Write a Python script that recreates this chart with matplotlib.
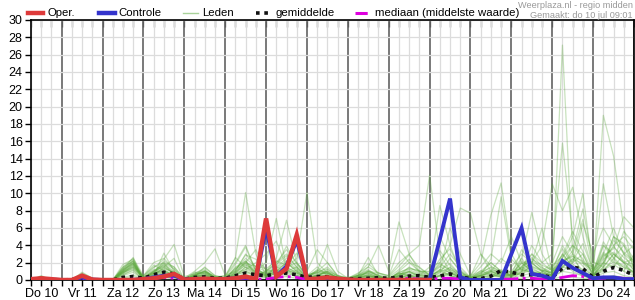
import matplotlib
matplotlib.use("Agg")
import matplotlib.pyplot as plt
from matplotlib.lines import Line2D
import numpy as np

plt.rcParams['font.family'] = ['Liberation Sans', 'DejaVu Sans']

# ---------------- data ----------------
# time axis: hours since Do 10 00:00, 6-hourly from Do 10 06:00 to Vr 25 00:00
hours = list(range(6, 361, 6))
day_labels = ["Do 10", "Vr 11", "Za 12", "Zo 13", "Ma 14", "Di 15", "Wo 16", "Do 17",
              "Vr 18", "Za 19", "Zo 20", "Ma 21", "Di 22", "Wo 23", "Do 24"]
y_ticks = list(range(0, 31, 2))

oper = [0.1, 0.2, 0.1,
        0, 0, 0.5, 0.05,
        0, 0, 0, 0,
        0.1, 0.2, 0.4, 0.7,
        0.05, 0.1, 0.15, 0.1,
        0.1, 0.2, 0.4, 0.1,
        7.1, 0.4, 1.3, 5.2,
        0.1, 0.15, 0.3, 0.15,
        0.05, 0, 0, 0,
        0, 0, 0, 0,
        0]

controle = [0.1, 0.1, 0.05,
            0, 0, 0.3, 0.05,
            0, 0, 0, 0,
            0.1, 0.3, 0.5, 0.5,
            0.05, 0.1, 0.1, 0,
            0.1, 0.2, 0.3, 0.1,
            6.0, 0.4, 1.6, 4.6,
            0.1, 0.1, 0.2, 0.1,
            0, 0, 0, 0,
            0, 0, 0, 0,
            0.05, 4.7, 9.4, 0.3,
            0, 0, 0, 0,
            3.0, 6.0, 0.7, 0.5,
            0.1, 2.2, 1.4, 0.8,
            0.2, 0.3, 0.3, 0.1,
            0.1]

gemiddelde = [0.1, 0.15, 0.05,
              0, 0.05, 0.3, 0.05,
              0, 0, 0.3, 0.4,
              0.2, 0.6, 0.9, 0.7,
              0.1, 0.3, 0.35, 0.2,
              0.2, 0.5, 0.8, 0.6,
              0.5, 0.7, 0.8, 0.6,
              0.3, 0.4, 0.35, 0.15,
              0.1, 0.15, 0.2, 0.25,
              0.2, 0.3, 0.45, 0.5,
              0.3, 0.45, 0.7, 0.35,
              0.15, 0.15, 0.45, 1.1,
              0.9, 0.6, 0.6, 0.55,
              0.3, 1.35, 1.45, 1.3,
              0.3, 1.0, 1.45, 1.1,
              0.55]

mediaan = [0, 0.05, 0,
           0, 0, 0.1, 0,
           0, 0, 0, 0.1,
           0, 0.2, 0.3, 0.2,
           0, 0.05, 0.1, 0,
           0, 0.1, 0.2, 0.1,
           0.1, 0.3, 0.4, 0.3,
           0.05, 0.1, 0.1, 0,
           0, 0, 0, 0.05,
           0, 0.1, 0.2, 0.1,
           0.05, 0.2, 0.2, 0.1,
           0, 0, 0.05, 0.1,
           0.1, 0.2, 0.2, 0.1,
           0.1, 0.3, 0.5, 0.4,
           0.1, 0.2, 0.3, 0.2,
           0.1]

lid01 = [0, 0.4, 0, 0, 0, 0.6, 0, 0, 0, 1.2, 2.6, 0, 1.0, 1.5, 0.8, 0, 0.3, 0.5, 0.2, 0, 1.5, 2.2, 0.5,
         0.3, 0.8, 1.2, 0.4, 0, 0.2, 0.6, 0, 0, 0, 0.3, 0.5, 0, 0.4, 1.0, 0.3, 0, 0.5, 1.5, 0.3,
         0, 0, 0.4, 1.2, 0.5, 2.0, 1.0, 0.3, 0.5, 27.1, 3.0, 0.5, 0, 1.5, 3.0, 2.0, 0.8]
lid02 = [0, 0.3, 0, 0, 0, 0.4, 0, 0, 0, 0.8, 1.8, 0.2, 0.8, 1.2, 0.5, 0, 0.5, 1.0, 0.3, 0.5, 2.5, 10.1, 3.0,
         0.5, 1.0, 2.0, 1.0, 0.3, 0.5, 1.0, 0.2, 0, 0.2, 0.5, 0.2, 0, 0.8, 0.5, 0, 0.5, 2.0, 1.0, 0.5,
         0, 0.5, 1.0, 0.5, 0, 1.0, 4.0, 2.0, 1.0, 3.0, 1.5, 0.5, 0.3, 4.0, 2.5, 1.0, 3.0]
lid03 = [0, 0.2, 0, 0, 0, 0.5, 0, 0, 0, 1.5, 2.2, 0, 0.5, 3.1, 1.0, 0, 0.2, 0.4, 0, 0, 0.8, 1.2, 2.0,
         3.0, 4.5, 1.5, 2.5, 10.1, 2.0, 0.8, 0.3, 0, 0.3, 1.0, 0.4, 0, 0.5, 0.3, 0, 0.3, 1.2, 0.5, 0.2,
         0, 0, 0.3, 0.8, 1.0, 0.5, 2.0, 6.0, 1.0, 4.0, 2.0, 3.0, 0.5, 2.0, 5.0, 4.0, 1.5]
lid04 = [0, 0.5, 0, 0, 0, 0.8, 0.2, 0, 0, 1.0, 1.5, 0.5, 1.5, 2.0, 0.5, 0, 0.8, 1.2, 0.2, 0.2, 0.5, 1.0, 0.5,
         1.0, 2.0, 3.0, 1.5, 0.5, 1.0, 2.0, 0.5, 0.2, 0.5, 1.5, 0.8, 0.5, 2.0, 3.0, 4.0, 12.1, 3.0, 1.0, 0.5,
         0.3, 0.8, 2.0, 1.0, 0.5, 1.0, 3.0, 1.5, 0.5, 2.0, 1.0, 0.5, 0.2, 3.0, 6.0, 3.0, 2.0]
lid05 = [0, 0.2, 0, 0, 0, 0.3, 0, 0, 0, 0.5, 0.9, 0, 0.3, 0.8, 0.4, 0, 0.2, 0.3, 0, 0, 0.5, 1.5, 1.0,
         2.0, 7.1, 1.5, 0.8, 0.3, 0.5, 0.4, 0, 0, 0.1, 0.3, 0.1, 0, 0.2, 0.5, 0.3, 0, 0.5, 0.8, 0.3,
         0, 0.3, 0.5, 0.4, 0.5, 0.8, 1.5, 1.0, 0.5, 2.0, 4.0, 3.0, 0.5, 19.0, 14.3, 6.0, 1.0]
lid06 = [0, 0.3, 0, 0, 0, 0.5, 0, 0, 0, 1.0, 2.0, 0.2, 1.0, 2.0, 1.5, 0.2, 0.5, 0.8, 0.3, 0, 0.3, 0.8, 0.6,
         1.0, 2.5, 6.9, 2.0, 0.5, 1.5, 0.5, 0, 0, 0.3, 0.6, 0.2, 0, 1.0, 2.0, 1.0, 1.0, 8.6, 4.0, 1.0,
         0, 0.5, 0.8, 0.3, 0.2, 1.5, 0.8, 0.5, 1.0, 1.5, 2.5, 1.0, 0.5, 1.5, 3.0, 2.0, 0.5]
lid07 = [0, 0.4, 0, 0, 0, 0.6, 0.1, 0, 0, 1.8, 2.4, 0, 0.8, 1.0, 0.6, 0.2, 1.0, 2.0, 3.6, 0.5, 1.0, 2.0, 0.8,
         0.5, 1.0, 1.5, 2.0, 0.5, 0.8, 1.5, 0.5, 0, 0.5, 0.8, 0.3, 0.2, 0.6, 1.0, 0.5, 1.5, 2.0, 4.0, 8.3,
         7.7, 3.0, 1.0, 0.5, 0.3, 2.5, 1.0, 0.5, 0.5, 3.0, 1.5, 1.0, 0.3, 2.0, 4.0, 5.0, 3.5]
lid08 = [0, 0.2, 0, 0, 0, 0.4, 0, 0, 0, 0.6, 1.2, 0, 0.5, 1.5, 2.5, 0, 0.3, 0.6, 0.2, 0, 1.0, 3.0, 1.5,
         0.5, 1.5, 1.0, 0.5, 0.3, 0.5, 1.0, 0.2, 0, 0.5, 2.6, 0.5, 0, 0.3, 0.5, 0.2, 0.5, 1.0, 0.5, 0.2,
         0.5, 2.0, 7.5, 11.2, 3.0, 1.0, 2.0, 1.0, 0.5, 2.5, 5.0, 2.0, 0.5, 1.0, 2.5, 4.0, 2.0]
lid09 = [0, 0.3, 0, 0, 0, 0.3, 0, 0, 0, 0.8, 1.6, 0.3, 1.2, 0.8, 0.3, 0, 0.5, 0.5, 0, 0, 0.8, 2.0, 3.5,
         1.0, 0.5, 1.0, 1.5, 0.2, 0.5, 0.8, 0.3, 0, 0.2, 0.4, 0.2, 0, 0.5, 1.5, 0.8, 0.3, 0.8, 2.5, 1.0,
         0.2, 0.5, 1.0, 2.5, 1.5, 3.0, 2.0, 4.0, 11.1, 8.0, 10.7, 5.0, 1.0, 2.0, 1.5, 3.0, 1.0]
lid10 = [0, 0.2, 0, 0, 0, 0.5, 0, 0, 0, 1.2, 2.0, 0, 0.7, 1.8, 1.0, 0, 0.4, 1.5, 0.5, 0.3, 1.8, 3.8, 1.0,
         0.5, 1.0, 2.0, 1.0, 0.2, 0.5, 0.5, 0, 0, 0.3, 1.0, 0.5, 0, 0.5, 0.8, 0.5, 0.5, 1.5, 3.0, 1.5,
         0.3, 0.5, 1.0, 0.8, 0.5, 1.5, 3.0, 2.0, 3.0, 15.8, 5.0, 10.0, 1.0, 4.0, 3.0, 2.0, 2.5]
lid11 = [0, 0.4, 0, 0, 0, 0.7, 0, 0, 0, 1.5, 2.5, 0.5, 2.0, 2.5, 1.2, 0, 0.6, 1.0, 0.3, 0.2, 1.2, 2.5, 1.5,
         1.0, 2.0, 3.5, 2.0, 0.5, 0.8, 1.0, 0.5, 0.2, 0.5, 0.8, 0.3, 0, 0.3, 0.6, 0.3, 0.2, 0.5, 1.2, 0.6,
         0.2, 0.8, 1.5, 1.0, 1.0, 2.5, 7.8, 3.0, 1.0, 2.0, 3.0, 2.0, 1.5, 11.1, 5.0, 3.0, 4.0]
lid12 = [0, 0.3, 0, 0, 0, 0.5, 0, 0, 0, 1.0, 1.8, 0, 0.6, 1.0, 0.5, 0, 0.3, 0.6, 0.2, 0, 0.5, 1.5, 0.8,
         0.5, 1.0, 1.2, 0.8, 0.3, 1.0, 4.1, 1.0, 0.2, 0.8, 1.5, 4.0, 1.0, 6.7, 3.0, 1.0, 0.5, 1.0, 6.0, 3.0,
         0.5, 1.0, 2.0, 1.0, 0.5, 3.5, 2.0, 1.0, 2.0, 5.0, 3.0, 7.0, 1.0, 3.0, 2.0, 1.5, 1.0]
lid13 = [0, 0.2, 0, 0, 0, 0.4, 0, 0, 0, 0.7, 1.4, 0.2, 0.8, 2.2, 1.5, 0, 0.5, 1.0, 0.3, 0.5, 2.0, 4.0, 1.0,
         0.5, 1.5, 2.5, 4.8, 1.0, 3.5, 2.0, 0.5, 0.3, 0.5, 1.0, 0.8, 0.5, 3.5, 2.0, 1.5, 0.5, 5.0, 2.5, 1.0,
         0.3, 1.5, 3.0, 2.0, 5.0, 2.0, 1.0, 0.8, 0.5, 1.0, 2.0, 6.5, 3.0, 6.0, 4.0, 2.0, 1.5]
lid14 = [0, 0.1, 0, 0, 0, 0.2, 0, 0, 0, 0.3, 0.6, 0, 0.3, 0.5, 0.3, 0, 0.2, 0.3, 0, 0, 0.3, 0.6, 0.4,
         0.3, 0.5, 0.8, 0.5, 0.2, 0.3, 0.3, 0, 0, 0.1, 0.2, 0.1, 0, 0.2, 0.3, 0.2, 0.2, 0.5, 0.5, 0.2,
         0, 0.2, 0.5, 0.3, 0.3, 0.5, 0.8, 0.5, 0.3, 1.0, 0.8, 0.5, 0.2, 0.8, 1.0, 0.5, 0.3]
lid15 = [0, 0.3, 0, 0, 0, 0.5, 0.1, 0, 0, 0.9, 1.3, 0.3, 0.9, 0.7, 0.4, 0, 0.4, 0.5, 0.1, 0.1, 0.6, 1.0, 0.6,
         0.4, 0.8, 1.2, 0.6, 0.1, 0.4, 0.5, 0.1, 0, 0.2, 0.4, 0.2, 0.1, 0.4, 0.6, 0.4, 0.3, 0.6, 0.8, 0.4,
         0.1, 0.3, 0.6, 0.5, 0.5, 0.7, 1.2, 0.8, 0.6, 1.5, 1.2, 0.8, 0.3, 1.2, 1.8, 1.0, 0.5]
lid16 = [0, 0.2, 0, 0, 0, 0.4, 0, 0, 0, 1.1, 1.9, 0.1, 0.6, 1.3, 0.9, 0, 0.3, 0.8, 0.2, 0, 0.7, 1.8, 0.9,
         0.6, 1.2, 0.9, 1.1, 0.2, 0.6, 0.9, 0.2, 0, 0.3, 0.7, 0.3, 0, 0.6, 1.2, 0.7, 0.4, 1.1, 1.9, 0.6,
         0.1, 0.4, 0.9, 0.7, 0.6, 1.6, 2.2, 1.4, 0.8, 2.2, 2.8, 1.6, 0.4, 2.4, 3.2, 2.2, 1.2]
lid17 = [0, 0.4, 0, 0, 0, 0.9, 0.2, 0, 0, 1.4, 2.2, 0.4, 1.7, 1.1, 0.6, 0, 0.9, 0.7, 0.1, 0.2, 1.1, 2.9, 2.4,
         1.2, 0.9, 0.5, 0.8, 0.1, 0.4, 1.2, 0.4, 0.1, 0.6, 1.2, 0.4, 0.2, 0.8, 0.5, 0.2, 0.1, 0.4, 0.7, 0.3,
         0.2, 0.6, 1.2, 0.9, 0.4, 1.2, 0.9, 0.6, 1.4, 3.6, 1.8, 1.2, 0.6, 1.8, 4.6, 3.2, 2.2]
lid18 = [0, 0, 0, 0, 0, 0.1, 0, 0, 0, 0.2, 0.4, 0, 0.2, 0.3, 0.1, 0, 0.1, 0.1, 0, 0, 0.2, 0.4, 0.2,
         0.1, 0.3, 0.4, 0.2, 0, 0.1, 0.1, 0, 0, 0, 0.1, 0, 0, 0.1, 0.2, 0.1, 0, 0.1, 0.3, 0.1,
         0, 0.1, 0.2, 0.1, 0.1, 0.2, 0.4, 0.2, 0.1, 0.4, 0.3, 0.2, 0.1, 0.3, 0.5, 0.3, 0.2]
lid19 = [0, 0.3, 0, 0, 0, 0.5, 0, 0, 0, 0.9, 1.7, 0.2, 1.0, 1.6, 0.7, 0, 0.6, 1.1, 0.4, 0.3, 2.6, 1.4, 0.7,
         0.8, 1.4, 2.2, 1.3, 0.4, 0.9, 0.6, 0.1, 0, 0.4, 0.9, 0.6, 0.3, 1.2, 2.4, 0.9, 0.6, 1.8, 1.2, 0.7,
         0.4, 3.0, 1.6, 0.9, 0.8, 1.4, 2.6, 1.2, 0.7, 1.6, 2.2, 4.2, 1.1, 2.8, 3.6, 7.3, 6.0]
lid20 = [0, 0.2, 0, 0, 0, 0.6, 0, 0, 0, 1.3, 2.1, 0.3, 1.4, 2.4, 4.1, 0.4, 0.7, 0.9, 0.3, 0.1, 0.9, 1.7, 1.2,
         0.7, 1.6, 3.9, 1.8, 0.4, 1.1, 0.7, 0.3, 0.2, 0.4, 0.5, 0.2, 0.1, 0.5, 1.0, 0.6, 0.2, 0.9, 1.4, 0.8,
         0.3, 0.5, 0.7, 0.6, 0.4, 0.9, 1.6, 1.1, 0.9, 2.6, 4.0, 2.4, 0.7, 1.3, 2.1, 1.7, 0.8]
lid21 = [0, 0.1, 0, 0, 0, 0.3, 0, 0, 0, 0.6, 1.1, 0, 0.4, 0.9, 0.6, 0, 0.4, 0.7, 0.2, 0.1, 0.6, 1.2, 0.7,
         0.4, 0.8, 1.4, 0.9, 0.2, 0.5, 0.4, 0.1, 0, 0.2, 0.6, 0.3, 0.2, 0.7, 0.9, 0.5, 0.4, 1.2, 0.9, 0.3,
         0.1, 0.6, 2.4, 9.6, 2.4, 1.2, 0.8, 0.9, 1.6, 2.8, 5.6, 3.3, 0.9, 4.4, 2.6, 1.4, 0.9]
lid22 = [0, 0.3, 0, 0, 0, 0.4, 0, 0, 0, 1.0, 2.3, 0.1, 0.7, 1.4, 0.8, 0, 0.5, 0.9, 0.2, 0.2, 1.4, 2.1, 1.3,
         0.6, 1.3, 1.9, 1.2, 0.3, 0.7, 0.8, 0.2, 0.1, 0.3, 0.5, 0.2, 0.1, 0.9, 1.3, 1.1, 0.7, 1.6, 0.8, 0.4,
         0.2, 1.1, 0.6, 0.4, 0.6, 2.2, 1.4, 0.7, 0.6, 1.8, 3.4, 8.2, 2.1, 1.5, 5.0, 4.2, 2.4]
lid23 = [0, 0.2, 0, 0, 0, 0.6, 0, 0, 0, 1.2, 1.9, 0.2, 1.1, 1.7, 0.9, 0.1, 0.7, 1.4, 0.5, 0.2, 1.3, 1.9, 1.6,
         1.3, 2.2, 1.7, 3.1, 0.6, 0.9, 1.3, 0.4, 0.2, 0.7, 1.9, 0.8, 0.4, 1.6, 2.9, 1.4, 0.6, 2.4, 3.6, 1.2,
         0.3, 0.9, 1.4, 0.7, 0.7, 1.9, 2.4, 1.7, 1.2, 2.1, 2.7, 2.2, 0.8, 2.6, 3.8, 2.6, 1.6]
lid24 = [0, 0.3, 0, 0, 0, 0.4, 0, 0, 0, 0.8, 1.5, 0.1, 0.9, 1.9, 1.3, 0, 0.6, 1.0, 0.4, 0.1, 0.9, 2.2, 0.9,
         0.9, 1.8, 2.8, 1.5, 0.3, 1.2, 0.8, 0.3, 0.1, 0.5, 1.1, 0.5, 0.2, 0.8, 1.4, 1.0, 0.9, 3.4, 1.7, 0.6,
         0.2, 0.7, 1.1, 0.9, 0.9, 1.3, 1.9, 1.1, 0.8, 1.4, 2.4, 1.9, 1.2, 3.2, 2.2, 5.6, 4.2]

leden = [lid01, lid02, lid03, lid04, lid05, lid06, lid07, lid08, lid09, lid10, lid11, lid12,
         lid13, lid14, lid15, lid16, lid17, lid18, lid19, lid20, lid21, lid22, lid23, lid24]

# ---------------- styles ----------------
RED = '#dd3a3a'
BLUE = '#3434cc'
GREEN = '#5aa83a'
MAGENTA = '#dd00dd'

W, H = 635, 300
fig = plt.figure(figsize=(W / 100, H / 100), dpi=100)
ax = fig.add_axes([31 / W, 20 / H, 603 / W, 260 / H])

# grid
ax.set_xlim(6, 360)
ax.set_ylim(0, 30)
ax.set_xticks(range(6, 361, 6), minor=True)
ax.set_xticks(range(24, 361, 24))
ax.set_yticks(y_ticks)
ax.grid(which='minor', axis='x', color='#dcdcdc', lw=0.9, zorder=0)
ax.grid(which='major', axis='x', color='#555555', lw=1.1, zorder=0.5)
ax.grid(which='major', axis='y', color='#dcdcdc', lw=0.9, zorder=0)
ax.set_axisbelow(True)

# label positions at day centres
ax.set_xticklabels([])
for i, lab in enumerate(day_labels):
    ax.text(24 * i + 12, -0.9, lab, ha='center', va='top', fontsize=9,
            transform=ax.transData)

ax.tick_params(axis='x', which='both', direction='out', length=4, width=1,
               color='black', labelbottom=False)
ax.tick_params(axis='y', which='major', direction='out', length=4, width=1,
               labelsize=9, pad=2)
for sp in ax.spines.values():
    sp.set_color('black')
    sp.set_linewidth(1.2)

# inward ticks along the top edge
top = ax.secondary_xaxis('top')
top.set_xticks(range(6, 361, 6))
top.set_xticklabels([])
top.tick_params(axis='x', direction='in', length=5, width=1, color='#777777')
top.spines['top'].set_visible(False)

# members
for m in leden:
    ax.plot(hours, m, color=GREEN, alpha=0.33, lw=0.9, zorder=2)

ax.plot(hours, gemiddelde, color='#111111', lw=2.6, linestyle=(0, (1, 1.3)), zorder=3)
ax.plot(hours, mediaan, color=MAGENTA, lw=2.0, linestyle='-.', zorder=3.2)
ax.plot(hours, controle, color=BLUE, lw=2.8, zorder=4, solid_joinstyle='miter')
ax.plot(hours[:len(oper)], oper, color=RED, lw=3.2, zorder=5, solid_joinstyle='miter')

# legend (manual, figure pixel coords)
def fx(px):
    return px / W

def fy(py):
    return 1 - py / H

ly = 13
items = [
    (28, 43, 47, "Oper.", dict(color=RED, lw=3.2)),
    (99, 115, 118, "Controle", dict(color=BLUE, lw=3.2)),
    (183, 198, 202, "Leden", dict(color='#a9d39a', lw=1.0)),
    (256, 268, 276, "gemiddelde", dict(color='#111111', lw=2.6, linestyle=(0, (1, 1.3)))),
    (355, 370, 375, "mediaan (middelste waarde)", dict(color=MAGENTA, lw=2.2, linestyle=(0, (4, 1.5, 0.7, 1.5)))),
]
for x0, x1, tx, label, st in items:
    fig.add_artist(Line2D([fx(x0), fx(x1)], [fy(ly), fy(ly)], transform=fig.transFigure, **st))
    fig.text(fx(tx), fy(ly + 0.5), label, fontsize=8.2, va='center', ha='left')

fig.text(fx(633), fy(5), "Weerplaza.nl - regio midden", fontsize=6.6, color='#999999',
         ha='right', va='center')
fig.text(fx(633), fy(16), "Gemaakt: do 10 jul 09:01", fontsize=6.6, color='#999999',
         ha='right', va='center')

fig.savefig("out.png", dpi=100)
